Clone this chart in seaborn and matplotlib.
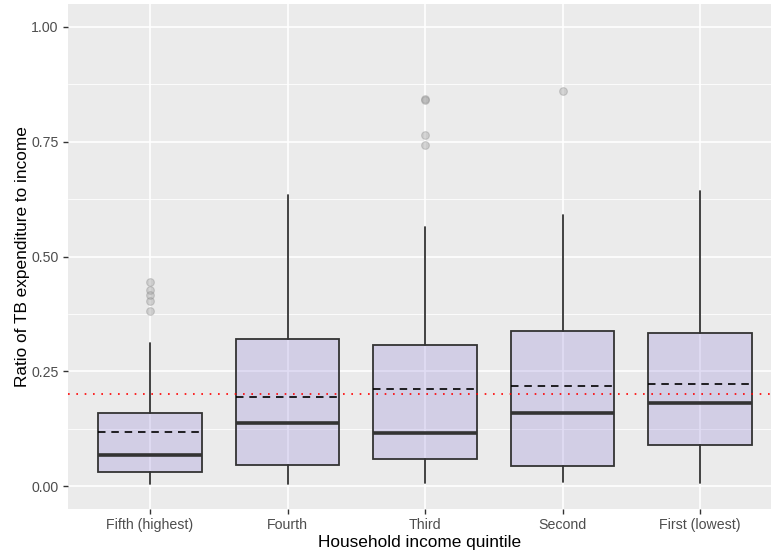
import matplotlib
matplotlib.use("Agg")
import matplotlib.pyplot as plt
import seaborn as sns
import numpy as np

categories = ["Fifth (highest)", "Fourth", "Third", "Second", "First (lowest)"]
whis_low = [0.004, 0.005, 0.006, 0.009, 0.006]
q1 = [0.031, 0.046, 0.058, 0.044, 0.090]
medians = [0.067, 0.138, 0.116, 0.160, 0.181]
q3 = [0.159, 0.320, 0.307, 0.338, 0.333]
whis_high = [0.312, 0.634, 0.564, 0.591, 0.643]
means = [0.118, 0.193, 0.211, 0.218, 0.222]
outliers = [
    [0.444, 0.427, 0.416, 0.403, 0.381],
    [],
    [0.843, 0.840, 0.764, 0.743],
    [0.860],
    [],
]
threshold = 0.2
y_ticks = [0.0, 0.25, 0.5, 0.75, 1.0]

sns.set_theme(style="darkgrid", rc={
    "axes.facecolor": "#EBEBEB",
    "grid.color": "white",
    "axes.edgecolor": "none",
})
plt.rcParams["font.family"] = ["Liberation Sans", "DejaVu Sans"]

fig = plt.figure(figsize=(7.71, 5.52), dpi=100)
ax = fig.add_axes([67.5 / 771, 43 / 552, 1 - 67.5 / 771, (509 - 4) / 552])

stats = []
for i, c in enumerate(categories):
    stats.append(dict(label=c, whislo=whis_low[i], q1=q1[i], med=medians[i],
                      q3=q3[i], whishi=whis_high[i], mean=means[i],
                      fliers=outliers[i]))

edge = "#333333"
ax.bxp(stats, positions=np.arange(len(categories)), widths=0.75,
       patch_artist=True, showmeans=True, meanline=True, showcaps=False,
       boxprops=dict(facecolor=(155/255, 142/255, 218/255, 0.3), edgecolor=edge, linewidth=1.3),
       whiskerprops=dict(color=edge, linewidth=1.3),
       medianprops=dict(color=edge, linewidth=2.6, solid_capstyle="butt"),
       meanprops=dict(color="black", linestyle=(0, (4.5, 3.5)), linewidth=1.2),
       flierprops=dict(marker="o", markersize=5.5, markerfacecolor="#9E9E9E",
                       markeredgecolor="#8E8E8E", alpha=0.4, markeredgewidth=0.8),
       zorder=3)

ax.axhline(threshold, color="red", linestyle=(0, (1, 4)), linewidth=1.2, zorder=4)

ax.set_xlim(-0.6, 4.6 - (782.5 - 771) / 137.5)
ax.set_ylim(-0.05, 1.05)
ax.set_yticks(y_ticks)
ax.set_yticklabels([f"{v:.2f}" for v in y_ticks])
ax.set_yticks([0.125, 0.375, 0.625, 0.875], minor=True)
ax.set_xticks(np.arange(len(categories)))
ax.set_xticklabels(categories)
ax.grid(which="major", color="white", linewidth=1.2)
ax.grid(which="minor", axis="y", color="white", linewidth=0.6)
ax.set_axisbelow(True)

ax.tick_params(axis="both", which="major", length=3.5, width=1, color=edge,
               labelsize=10.2, labelcolor="#4D4D4D", pad=3, direction="out")
ax.tick_params(which="minor", length=0)
ax.tick_params(axis="x", bottom=True)
ax.tick_params(axis="y", left=True)

ax.set_xlabel("Household income quintile", fontsize=12.4, color="black", labelpad=2)
ax.set_ylabel("Ratio of TB expenditure to income", fontsize=12.4, color="black", labelpad=1)

fig.savefig("out.png", dpi=100)
